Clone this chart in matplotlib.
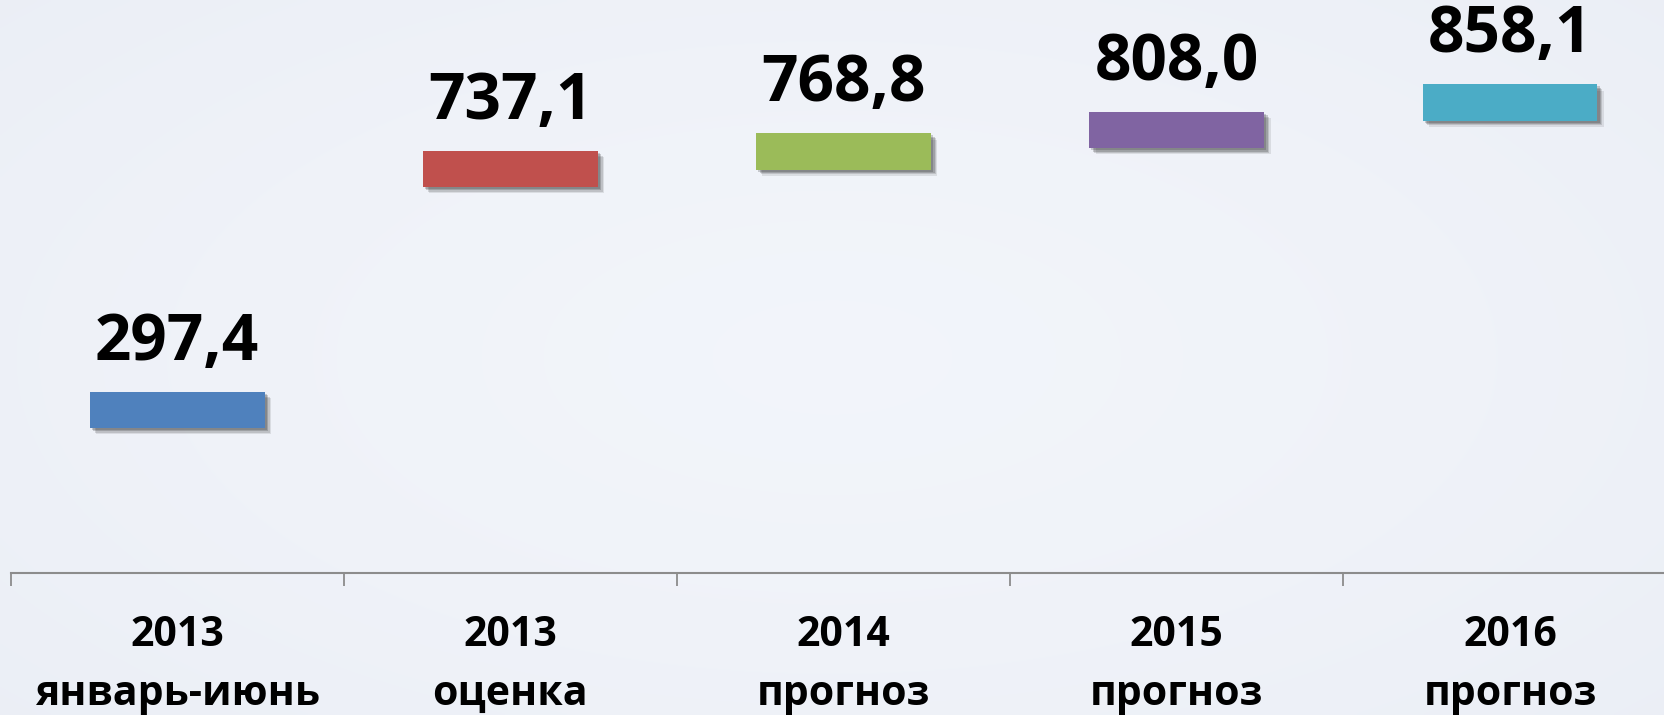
import numpy as np
import matplotlib
matplotlib.use("Agg")
import matplotlib.pyplot as plt
import matplotlib.patheffects as pe

categories = ["2013\nянварь-июнь", "2013\nоценка", "2014\nпрогноз", "2015\nпрогноз", "2016\nпрогноз"]
values = [297.4, 737.1, 768.8, 808.0, 858.1]
colors = ["#4F81BD", "#C0504D", "#9BBB59", "#8064A2", "#4BACC6"]

plt.rcParams["font.family"] = ["Open Sans", "DejaVu Sans"]

fig = plt.figure(figsize=(16.65, 7.15), dpi=100)

# soft background gradient
bg = fig.add_axes([0, 0, 1, 1])
yy, xx = np.mgrid[0:1:200j, 0:1:400j]
r = np.sqrt(((xx - 0.5) / 0.9) ** 2 + ((yy - 0.5) / 1.0) ** 2)
c0 = np.array([0.950, 0.960, 0.982])
c1 = np.array([0.922, 0.936, 0.964])
img = c0 + (c1 - c0) * np.clip(r / 0.75, 0, 1)[..., None] ** 1.5
bg.imshow(img, aspect="auto", extent=[0, 1, 0, 1], interpolation="bilinear")
bg.axis("off")

ax = fig.add_axes([10.6 / 1665, 142 / 715, 5 * 333.2 / 1665, 573 / 715])
ax.patch.set_alpha(0)

x = np.arange(len(values))
thick = 66
bars = ax.bar(x, [thick] * len(values), bottom=[v - thick / 2 for v in values],
              width=0.525, color=colors, zorder=3)
shadow = [pe.SimplePatchShadow(offset=(o, -o), shadow_rgbFace="#202020", alpha=a)
          for o, a in [(4.5, 0.10), (3.5, 0.15), (2.5, 0.2), (1.5, 0.2)]]
for b in bars:
    b.set_path_effects(shadow + [pe.Normal()])

for xi, v in zip(x, values):
    ax.annotate(f"{v:.1f}".replace(".", ","), (xi, v + thick / 2), xytext=(0, 23),
                textcoords="offset points", ha="center", va="baseline",
                fontsize=46, fontweight="bold", color="black")

ax.set_xlim(-0.5, 4.5)
ax.set_ylim(0, 1045)
ax.set_yticks([])
ax.set_xticks(x)
ax.set_xticklabels(categories, fontsize=29.5, fontweight="bold", linespacing=1.58)
ax.set_xticks(np.arange(-0.5, 5, 1), minor=True)
ax.tick_params(axis="x", which="major", length=0, pad=30)
ax.tick_params(axis="x", which="minor", length=9, width=1.3, color="#8c8c8c")
for s in ["top", "right", "left"]:
    ax.spines[s].set_visible(False)
ax.spines["bottom"].set_color("#8c8c8c")
ax.spines["bottom"].set_linewidth(1.5)

fig.savefig("out.png", dpi=100)
